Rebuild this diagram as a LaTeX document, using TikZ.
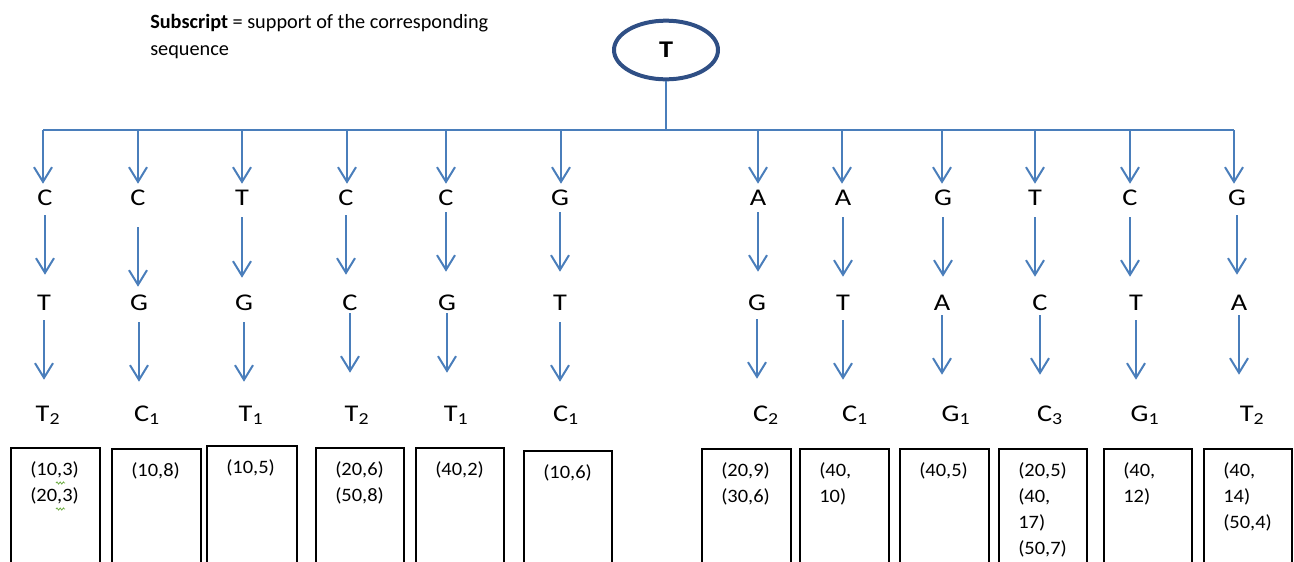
\documentclass[tikz,border=0pt]{standalone}
\usepackage{fontspec}
\setmainfont{Carlito}
\newfontfamily\lettfont[FakeStretch=1.18]{Carlito}
\newfontfamily\boxfont[FakeStretch=1.08]{Carlito}
\usetikzlibrary{arrows.meta,shapes.geometric,decorations.pathmorphing}
\definecolor{arrblue}{HTML}{4A7EBB}
\definecolor{rootblue}{HTML}{2F4F85}
\definecolor{squig}{HTML}{70AD47}
\begin{document}
\begin{tikzpicture}[x=0.75pt,y=-0.75pt,
  arr/.style={draw=arrblue, line width=1.5pt,
    -{Straight Barb[length=11pt,width=13.5pt,line width=1.5pt]}},
  bar/.style={draw=arrblue, line width=1.5pt},
  trunk/.style={draw=arrblue, line width=1.1pt},
  lett/.style={inner sep=0pt, text height=11.25pt, text depth=0pt,
    font=\lettfont\fontsize{18}{20}\selectfont, anchor=base},
  root/.style={ellipse, draw=rootblue, line width=3pt, minimum width=78pt,
    minimum height=44pt, inner sep=0pt, font=\lettfont\fontsize{18}{20}\selectfont\bfseries},
  boxn/.style={draw=black, line width=1.5pt, inner sep=0pt, minimum height=120pt},
  btext/.style={align=left, inner sep=0pt, font=\boxfont\fontsize{14.2}{19.6}\selectfont},
  note/.style={align=left, inner sep=0pt, font=\fontsize{15.2}{20.25}\selectfont},
  squigline/.style={draw=squig, line width=0.6pt,
    decorate, decoration={snake, segment length=2.4pt, amplitude=0.8pt}}
]
\useasboundingbox (0,0) rectangle (1294,561);
\clip (0,0) rectangle (1294,561);

\node[note, anchor=north west] (note) at (150,14)
  {\textbf{Subscript} = support of the corresponding\\sequence};

\node[root] (root) at (666,50) {T};

\foreach \i/\ax/\la/\xa/\lb/\xb/\lc/\sc/\xc/\sa/\ta/\sb/\tb in {
  1/43/C/45/T/44/T/2/48/215/275/320/380,
  2/138/C/138/G/139/C/1/147/227/287/322/382,
  3/242/T/242/G/244/T/1/251/217/278/322/382,
  4/347/C/346/C/350/T/2/357/215/275/313/373,
  5/446/C/446/G/447/T/1/456/212/272/313/373,
  6/561/G/560/T/560/C/1/566/212/272/322/382,
  7/758/A/758/G/757/C/2/766/212/272/319/379,
  8/842/A/843/T/843/C/1/855/217/277/320/380,
  9/942/G/943/A/942/G/1/956/217/277/315/375,
  10/1035/T/1035/C/1040/C/3/1050/217/277/315/375,
  11/1130/C/1130/T/1136/G/1/1145/217/277/320/380,
  12/1234/G/1237/A/1239/T/2/1252/215/275/315/375}{
  \coordinate (top-\i) at (\ax,130);
  \node[lett] (r1-\i) at (\xa,205) {\la};
  \node[lett] (r2-\i) at (\xb,310) {\lb};
  \node[lett] (r3-\i) at (\xc,421) {\lc\textsubscript{\sc}};
  \draw[arr, shorten >=4.5pt] (top-\i) -- (top-\i |- r1-\i.north);
  \pgfmathsetmacro\ssa{(\sa-205)*0.75}
  \pgfmathsetmacro\tta{(295-\ta)*0.75}
  \pgfmathsetmacro\ssb{(\sb-310)*0.75}
  \pgfmathsetmacro\ttb{(406-\tb)*0.75}
  \draw[arr, shorten <=\ssa pt, shorten >=\tta pt] (r1-\i.south) -- (r1-\i.south |- r2-\i.north);
  \draw[arr, shorten <=\ssb pt, shorten >=\ttb pt] (r2-\i.south) -- (r2-\i.south |- r3-\i.north);
}

\draw[bar] (top-1) -- (top-12);
\draw[trunk] (root.south) -- (root.south |- top-1);

\foreach \i/\bl/\br/\bt/\txt in {
  1/10/99/447/{(10,3)\\(20,3)},
  2/111/200/448/{(10,8)},
  3/206/296/445/{(10,5)},
  4/315/403/447/{(20,6)\\(50,8)},
  5/415/503/447/{(40,2)},
  6/523/611/450/{(10,6)},
  7/701/790/448/{(20,9)\\(30,6)},
  8/799/888/448/{(40,\\10)},
  9/899/988/448/{(40,5)},
  10/998/1086/448/{(20,5)\\(40,\\17)\\(50,7)},
  11/1103/1191/448/{(40,\\12)},
  12/1203/1291/448/{(40,\\14)\\(50,4)}}{
  \pgfmathsetmacro\bw{(\br-\bl)*0.75}
  \node[boxn, minimum width=\bw pt, anchor=north west] (b\i) at (\bl,\bt) {};
  \node[btext, anchor=north west] (t\i) at ([shift={(20,14)}]b\i.north west) {\txt};
}

\draw[squigline] (56,483) -- (65,483);
\draw[squigline] (56,509) -- (65,509);
\end{tikzpicture}
\end{document}
